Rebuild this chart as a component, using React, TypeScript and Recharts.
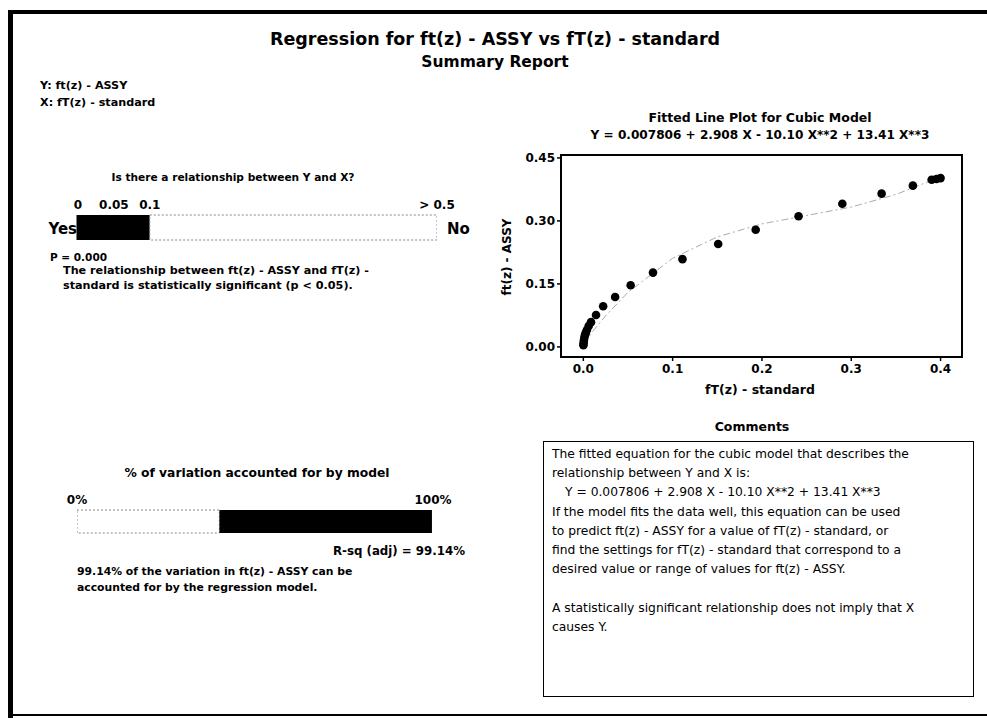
import React from 'react';
import { BarChart, Bar, XAxis, YAxis, ReferenceLine, ScatterChart, Scatter, ReferenceArea } from 'recharts';

// ---- data ----
const pValueTicks = [0, 0.05, 0.1, 0.5];
const pValueBar = [{ name: 'p', yes: 0.1, no: 0.4 }];
const pValue = 0;

const rsqTicks = [0, 100];
const rsqBar = [{ name: 'rsq', low: 40, high: 59.14 }];
const rsqAdj = 99.14;

const xStandard = [0.4, 0.3955, 0.39, 0.369, 0.334, 0.29, 0.241, 0.193, 0.151, 0.111, 0.078, 0.053, 0.0356, 0.0222, 0.0142, 0.0086, 0.006, 0.0041, 0.0028, 0.0018, 0.0011, 0.0006, 0.0003, 0.0001];
const yAssy = [0.402, 0.4, 0.398, 0.384, 0.365, 0.341, 0.311, 0.279, 0.245, 0.209, 0.177, 0.147, 0.119, 0.097, 0.076, 0.059, 0.05, 0.041, 0.034, 0.028, 0.022, 0.015, 0.009, 0.004];

const fitX = [0, 0.01, 0.025, 0.05, 0.1, 0.15, 0.2, 0.25, 0.3, 0.35, 0.4];
const fitY = [0.008, 0.036, 0.074, 0.13, 0.211, 0.262, 0.293, 0.313, 0.333, 0.363, 0.405];

const xTicks = [0, 0.1, 0.2, 0.3, 0.4];
const yTicks = [0, 0.15, 0.3, 0.45];

const points = xStandard.map((x, i) => ({ x, y: yAssy[i] }));
const fitLine = fitX.map((x, i) => ({ x, y: fitY[i] }));

const FONT = '"DejaVu Sans", Verdana, sans-serif';

function T({ x, y, size = 11, bold = true, anchor = 'left', children }: any) {
  const tx = anchor === 'center' ? '-50%' : anchor === 'right' ? '-100%' : '0';
  return (
    <div
      style={{
        position: 'absolute',
        left: x,
        top: y,
        transform: `translate(${tx}, -50%)`,
        fontSize: size,
        fontWeight: bold ? 700 : 400,
        lineHeight: 1,
        whiteSpace: 'nowrap',
        color: '#000',
        fontFamily: FONT,
      }}
    >
      {children}
    </div>
  );
}

const tickStyle = { fontSize: 12, fontWeight: 700, fill: '#000', fontFamily: FONT };

export default function App() {
  return (
    <div style={{ position: 'absolute', left: 0, top: 0, width: 987, height: 718, background: '#fff', overflow: 'hidden', fontFamily: FONT }}>
      {/* page frame */}
      <div style={{ position: 'absolute', left: 8, top: 10, width: 979, height: 4, background: '#000' }} />
      <div style={{ position: 'absolute', left: 8, top: 10, width: 5, height: 708, background: '#000' }} />
      <div style={{ position: 'absolute', left: 8, top: 714, width: 979, height: 2, background: '#000' }} />

      <T x={495} y={40} size={17.5} anchor="center">Regression for ft(z) - ASSY vs fT(z) - standard</T>
      <T x={495} y={63} size={15.5} anchor="center">Summary Report</T>
      <T x={40} y={86} size={11.2}>Y: ft(z) - ASSY</T>
      <T x={40} y={103} size={11.2}>X: fT(z) - standard</T>

      {/* relationship panel */}
      <T x={233} y={177} size={10.6} anchor="center">Is there a relationship between Y and X?</T>
      <div style={{ position: 'absolute', left: 0, top: 180 }}>
        <BarChart width={460} height={70} layout="vertical" data={pValueBar} margin={{ top: 15, right: 23, bottom: 10, left: 78 }} barCategoryGap={0}>
          <XAxis
            type="number"
            orientation="top"
            domain={[0, 0.5]}
            ticks={pValueTicks}
            tickFormatter={(v: number) => (v === 0.5 ? '> 0.5' : String(v))}
            axisLine={false}
            tickLine={false}
            tickSize={0}
            tickMargin={6}
            height={20}
            interval={0}
            tick={{ ...tickStyle, fontSize: 12 }}
            allowDataOverflow
          />
          <YAxis type="category" dataKey="name" hide />
          <Bar dataKey="yes" stackId="a" fill="#000" isAnimationActive={false} />
          <Bar dataKey="no" stackId="a" fill="#fff" stroke="#888" strokeWidth={1} strokeDasharray="2 2" isAnimationActive={false} />
          <ReferenceLine x={pValue} stroke="#000" strokeWidth={3} />
        </BarChart>
      </div>
      <T x={77} y={229} size={15} anchor="right">Yes</T>
      <T x={447} y={229} size={15}>No</T>
      <T x={50} y={257} size={10.5}>P = 0.000</T>
      <T x={63} y={271} size={11.2}>The relationship between ft(z) - ASSY and fT(z) -</T>
      <T x={63} y={286} size={11.2}>standard is statistically significant (p &lt; 0.05).</T>

      {/* R-sq panel */}
      <T x={257} y={473} size={12.3} anchor="center">% of variation accounted for by model</T>
      <div style={{ position: 'absolute', left: 0, top: 475 }}>
        <BarChart width={460} height={70} layout="vertical" data={rsqBar} margin={{ top: 15, right: 27, bottom: 12, left: 77 }} barCategoryGap={0}>
          <XAxis
            type="number"
            orientation="top"
            domain={[0, 100]}
            ticks={rsqTicks}
            tickFormatter={(v: number) => `${v}%`}
            axisLine={false}
            tickLine={false}
            tickSize={0}
            tickMargin={6}
            height={20}
            interval={0}
            tick={{ ...tickStyle, fontSize: 12 }}
            allowDataOverflow
          />
          <YAxis type="category" dataKey="name" hide />
          <Bar dataKey="low" stackId="a" fill="#fff" stroke="#888" strokeWidth={1} strokeDasharray="2 2" isAnimationActive={false} />
          <Bar dataKey="high" stackId="a" fill="#000" isAnimationActive={false} />
          <ReferenceLine x={rsqAdj} stroke="#000" strokeWidth={4} />
        </BarChart>
      </div>
      <T x={465} y={552} size={11.8} anchor="right">R-sq (adj) = 99.14%</T>
      <T x={77} y={572} size={10.8}>99.14% of the variation in ft(z) - ASSY can be</T>
      <T x={77} y={588} size={10.8}>accounted for by the regression model.</T>

      {/* fitted line plot */}
      <T x={760} y={118} size={12.5} anchor="center">Fitted Line Plot for Cubic Model</T>
      <T x={760} y={135} size={12.1} anchor="center">Y =  0.007806 + 2.908 X - 10.10 X**2 + 13.41 X**3</T>
      <div style={{ position: 'absolute', left: 490, top: 100 }}>
        <ScatterChart width={490} height={310} margin={{ top: 55, right: 18, bottom: 0, left: 0 }}>
          <XAxis
            type="number"
            dataKey="x"
            domain={[-0.025, 0.424]}
            ticks={xTicks}
            tickFormatter={(v: number) => v.toFixed(1)}
            allowDataOverflow
            axisLine={false}
            tickLine={{ stroke: '#000', strokeWidth: 1.5 }}
            tickSize={4}
            tickMargin={3}
            height={53}
            interval={0}
            tick={{ ...tickStyle, fontSize: 12 }}
          />
          <YAxis
            type="number"
            dataKey="y"
            domain={[-0.024, 0.457]}
            ticks={yTicks}
            tickFormatter={(v: number) => v.toFixed(2)}
            allowDataOverflow
            axisLine={false}
            tickLine={{ stroke: '#000', strokeWidth: 1.5 }}
            tickSize={4}
            tickMargin={2}
            width={71}
            interval={0}
            tick={{ ...tickStyle, fontSize: 12 }}
          />
          <ReferenceArea x1={-0.025} x2={0.424} y1={-0.024} y2={0.457} fill="none" fillOpacity={0} stroke="#000" strokeWidth={2} ifOverflow="visible" />
          <Scatter
            data={fitLine}
            line={{ stroke: '#aaa', strokeWidth: 1, strokeDasharray: '7 3 2 3' }}
            shape={() => <g />}
            isAnimationActive={false}
          />
          <Scatter data={points} fill="#000" shape={(p: any) => <circle cx={p.cx} cy={p.cy} r={4.3} fill="#000" />} isAnimationActive={false} />
        </ScatterChart>
      </div>
      <div
        style={{
          position: 'absolute',
          left: 507,
          top: 257,
          transform: 'translate(-50%, -50%) rotate(-90deg)',
          fontSize: 12,
          fontWeight: 700,
          whiteSpace: 'nowrap',
          lineHeight: 1,
          fontFamily: FONT,
        }}
      >
        ft(z) - ASSY
      </div>
      <T x={760} y={390} size={12.5} anchor="center">fT(z) - standard</T>

      {/* comments */}
      <T x={752} y={427} size={12.5} anchor="center">Comments</T>
      <div
        style={{
          position: 'absolute',
          left: 543,
          top: 441,
          width: 421,
          height: 251,
          border: '1.5px solid #000',
          padding: '3px 0 0 8px',
          boxSizing: 'content-box',
          fontSize: 12.3,
          lineHeight: '19.2px',
          fontFamily: FONT,
          color: '#000',
          whiteSpace: 'nowrap',
        }}
      >
        <div>The fitted equation for the cubic model that describes the</div>
        <div>relationship between Y and X is:</div>
        <div style={{ paddingLeft: 13 }}>Y =  0.007806 + 2.908 X - 10.10 X**2 + 13.41 X**3</div>
        <div>If the model fits the data well, this equation can be used</div>
        <div>to predict ft(z) - ASSY for a value of fT(z) - standard, or</div>
        <div>find the settings for fT(z) - standard that correspond to a</div>
        <div>desired value or range of values for ft(z) - ASSY.</div>
        <div>&nbsp;</div>
        <div>A statistically significant relationship does not imply that X</div>
        <div>causes Y.</div>
      </div>
    </div>
  );
}
